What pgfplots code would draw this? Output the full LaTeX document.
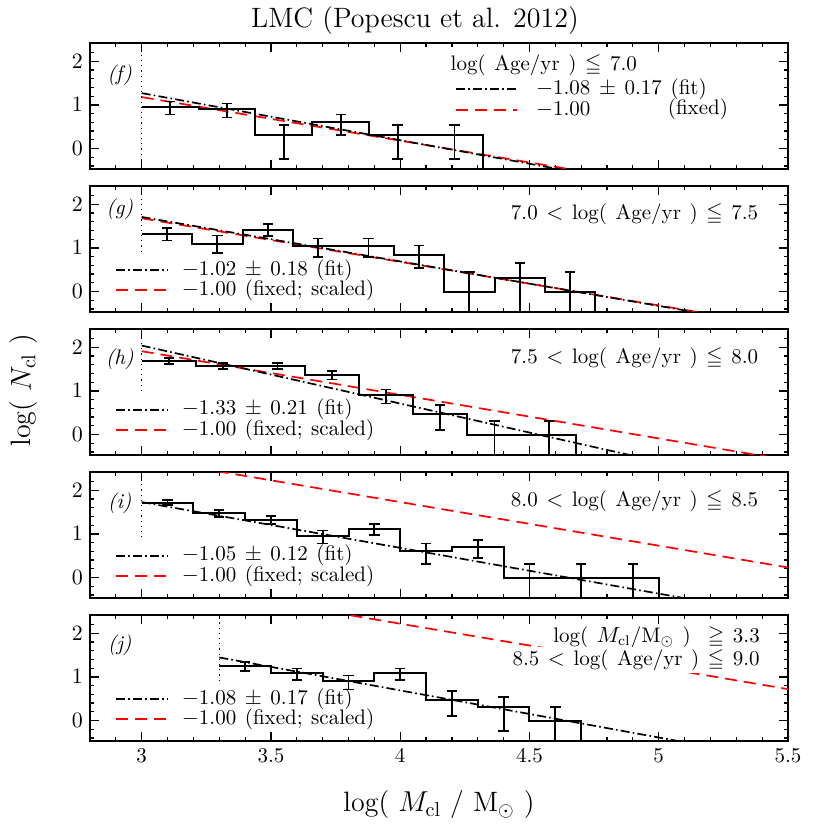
\documentclass[border=0pt]{standalone}
\usepackage{amssymb}
\usepackage{pgfplots}
\usepackage{pgfplotstable}
\pgfplotsset{compat=1.18}

\definecolor{fitred}{RGB}{255,0,0}
\newcommand{\lgfont}{\fontsize{10.5}{12.5}\selectfont\spaceskip=4.3pt\relax}

% bin centre, log N, upper and lower error (2 = runs off the panel)
\pgfplotstableread{
x    y     ep    em
3.11 0.954 0.125 0.176
3.33 0.903 0.131 0.190
3.55 0.301 0.232 0.533
3.77 0.602 0.176 0.301
3.99 0.301 0.232 0.533
4.21 0.301 0.232 0.533
}\tabF
\pgfplotstableread{
x      y     ep    em
3.0975 1.32  0.14  0.15
3.2925 1.10  0.185 0.215
3.4875 1.41  0.13  0.14
3.6825 1.04  0.175 0.25
3.8775 1.04  0.175 0.25
4.0725 0.846 0.21  0.31
4.2675 0     0.44  2
4.4625 0.31  0.34  2
4.6575 0     0.44  2
}\tabG
\pgfplotstableread{
x     y     ep    em
3.105 1.690 0.059 0.064
3.315 1.580 0.067 0.074
3.525 1.580 0.067 0.074
3.735 1.362 0.086 0.098
3.945 0.903 0.131 0.190
4.155 0.477 0.198 0.374
4.365 0     0.301 2
4.575 0     0.301 2
}\tabH
\pgfplotstableread{
x   y     ep    em
3.1 1.716 0.057 0.062
3.3 1.477 0.074 0.082
3.5 1.322 0.090 0.103
3.7 0.954 0.125 0.176
3.9 1.114 0.107 0.137
4.1 0.602 0.176 0.301
4.3 0.699 0.158 0.260
4.5 0     0.301 2
4.7 0     0.301 2
4.9 0     0.301 2
}\tabI
\pgfplotstableread{
x   y     ep    em
3.4 1.255 0.092 0.117
3.6 1.079 0.114 0.148
3.8 0.903 0.131 0.190
4.0 1.079 0.114 0.148
4.2 0.477 0.198 0.374
4.4 0.301 0.232 0.533
4.6 0     0.301 2
}\tabJ

\tikzset{
  fitline/.style={black, line width=0.85pt, dash pattern=on 4.5pt off 1.6pt on 0.8pt off 1.6pt},
  fixline/.style={fitred, line width=0.85pt, dash pattern=on 6pt off 3.5pt},
  lim/.style={black, line width=0.6pt, dotted},
  lab/.style={inner sep=0.5pt},
}

\pgfplotsset{
  panel/.style={
    scale only axis, width=349pt, height=63pt,
    xmin=2.8, xmax=5.5, ymin=-0.47, ymax=2.42,
    xtick={3,3.5,4,4.5,5,5.5},
    minor xtick={2.9,3.0,...,5.45},
    ytick={0,1,2},
    minor ytick={-0.4,-0.2,...,2.41},
    tick align=inside, major tick length=4.5pt, minor tick length=2.2pt,
    tick style={black, line width=0.6pt},
    axis line style={line width=0.9pt},
    xticklabels={},
    tick label style={font=\fontsize{10.5}{12}\selectfont},
    anchor=north west, clip mode=individual,
  },
  hist/.style={black, line width=1pt, const plot, mark=none},
  ebar/.style={draw=none, mark=none,
    error bars/.cd, y dir=both, y explicit, error mark=none,
    error bar style={draw=black, solid, line width=0.9pt}},
  cap/.style={black, only marks, mark=-, mark size=2.6pt, mark options={solid, line width=0.9pt}},
}

% error bars with end caps for one table
\newcommand{\ebars}[1]{%
  \addplot[ebar] table[x=x, y=y, y error plus=ep, y error minus=em] {#1};
  \addplot[cap] table[x=x, y expr=\thisrow{y}+\thisrow{ep}] {#1};
  \addplot[cap] table[x=x, y expr=\thisrow{y}-\thisrow{em}] {#1};
}

\begin{document}
\begin{tikzpicture}[font=\lgfont]

% (f) log(Age/yr) <= 7.0
\begin{axis}[panel, at={(0,0)}]
\addplot[lim] coordinates {(3,-0.5) (3,2.5)};
\addplot[fixline] coordinates {(3,1.18) (5.5,-1.32)};
\addplot[fitline] coordinates {(3,1.27) (5.5,-1.43)};
\addplot[hist] coordinates {(3.00,0.954) (3.22,0.903) (3.44,0.301) (3.66,0.602) (3.88,0.301) (4.10,0.301) (4.32,0.301) (4.32,-1)};
\ebars{\tabF}
\node[lab, font=\lgfont\itshape] at (axis cs:2.915,1.69) {(f)};
\node[lab, anchor=west] at (axis cs:4.19,1.91) {log( Age/yr ) $\leqq$ 7.0};
\draw[fitline] (axis cs:4.215,1.37) -- (axis cs:4.45,1.37);
\node[lab, anchor=west] at (axis cs:4.52,1.37) {$-$1.08 $\pm$ 0.17 (fit)};
\draw[fixline] (axis cs:4.215,0.89) -- (axis cs:4.45,0.89);
\node[lab, anchor=west] at (axis cs:4.52,0.89) {$-$1.00};
\node[lab, anchor=west] at (axis cs:5.03,0.89) {(fixed)};
\end{axis}

% (g) 7.0 < log(Age/yr) <= 7.5
\begin{axis}[panel, at={(0,-71.5pt)}]
\addplot[lim] coordinates {(3,0.91) (3,2.5)};
\addplot[fixline] coordinates {(3,1.68) (5.5,-0.82)};
\addplot[fitline] coordinates {(3,1.71) (5.5,-0.84)};
\addplot[hist] coordinates {(3.000,1.32) (3.195,1.10) (3.390,1.41) (3.585,1.04) (3.780,1.04) (3.975,0.846) (4.170,0) (4.365,0.31) (4.560,0) (4.755,0) (4.755,-1)};
\ebars{\tabG}
\node[lab, font=\lgfont\itshape] at (axis cs:2.915,1.88) {(g)};
\node[lab, anchor=east] at (axis cs:5.39,1.77) {7.0 $<$ log( Age/yr ) $\leqq$ 7.5};
\draw[fitline] (axis cs:2.90,0.49) -- (axis cs:3.10,0.49);
\node[lab, anchor=west] at (axis cs:3.15,0.49) {$-$1.02 $\pm$ 0.18 (fit)};
\draw[fixline] (axis cs:2.90,0.04) -- (axis cs:3.10,0.04);
\node[lab, anchor=west] at (axis cs:3.15,0.04) {$-$1.00 (fixed; scaled)};
\end{axis}

% (h) 7.5 < log(Age/yr) <= 8.0
\begin{axis}[panel, at={(0,-143pt)}]
\addplot[lim] coordinates {(3,1.0) (3,2.5)};
\addplot[fixline] coordinates {(3,1.91) (5.5,-0.59)};
\addplot[fitline] coordinates {(3,2.04) (5.5,-1.285)};
\addplot[hist] coordinates {(3.00,1.690) (3.21,1.580) (3.42,1.580) (3.63,1.362) (3.84,0.903) (4.05,0.477) (4.26,0) (4.47,0) (4.68,0) (4.68,-1)};
\ebars{\tabH}
\node[lab, font=\lgfont\itshape] at (axis cs:2.915,1.73) {(h)};
\node[lab, anchor=east] at (axis cs:5.39,1.75) {7.5 $<$ log( Age/yr ) $\leqq$ 8.0};
\draw[fitline] (axis cs:2.90,0.57) -- (axis cs:3.10,0.57);
\node[lab, anchor=west] at (axis cs:3.15,0.57) {$-$1.33 $\pm$ 0.21 (fit)};
\draw[fixline] (axis cs:2.90,0.10) -- (axis cs:3.10,0.10);
\node[lab, anchor=west] at (axis cs:3.15,0.10) {$-$1.00 (fixed; scaled)};
\end{axis}

% (i) 8.0 < log(Age/yr) <= 8.5
\begin{axis}[panel, at={(0,-214.5pt)}]
\addplot[lim] coordinates {(3,0.92) (3,2.5)};
\addplot[fixline] coordinates {(3,2.73) (5.5,0.23)};
\addplot[fitline] coordinates {(3,1.73) (5.5,-0.895)};
\addplot[hist] coordinates {(3.0,1.716) (3.2,1.477) (3.4,1.322) (3.6,0.954) (3.8,1.114) (4.0,0.602) (4.2,0.699) (4.4,0) (4.6,0) (4.8,0) (5.0,0) (5.0,-1)};
\ebars{\tabI}
\node[lab, font=\lgfont\itshape] at (axis cs:2.915,1.70) {(i)};
\node[lab, anchor=east] at (axis cs:5.39,1.75) {8.0 $<$ log( Age/yr ) $\leqq$ 8.5};
\draw[fitline] (axis cs:2.90,0.50) -- (axis cs:3.10,0.50);
\node[lab, anchor=west] at (axis cs:3.15,0.50) {$-$1.05 $\pm$ 0.12 (fit)};
\draw[fixline] (axis cs:2.90,0.03) -- (axis cs:3.10,0.03);
\node[lab, anchor=west] at (axis cs:3.15,0.03) {$-$1.00 (fixed; scaled)};
\end{axis}

% (j) 8.5 < log(Age/yr) <= 9.0, log(Mcl) >= 3.3
\begin{axis}[panel, at={(0,-286pt)}, xticklabels={3,3.5,4,4.5,5,5.5}]
\addplot[lim] coordinates {(3.3,0.91) (3.3,2.5)};
\addplot[fixline] coordinates {(3.3,2.92) (5.5,0.72)};
\addplot[fitline] coordinates {(3.3,1.446) (5.5,-0.93)};
\addplot[hist] coordinates {(3.3,1.255) (3.5,1.079) (3.7,0.903) (3.9,1.079) (4.1,0.477) (4.3,0.301) (4.5,0) (4.7,0) (4.7,-1)};
\ebars{\tabJ}
\node[lab, font=\lgfont\itshape] at (axis cs:2.915,1.73) {(j)};
\node[anchor=east, fill=white, inner sep=1pt] at (axis cs:5.40,1.92) {log( $M_{\rm cl}$/M$_\odot$ ) \ $\geqq$ 3.3};
\node[anchor=east, fill=white, inner sep=1pt] at (axis cs:5.40,1.39) {8.5 $<$ log( Age/yr ) $\leqq$ 9.0};
\draw[fitline] (axis cs:2.90,0.49) -- (axis cs:3.10,0.49);
\node[lab, anchor=west] at (axis cs:3.15,0.49) {$-$1.08 $\pm$ 0.17 (fit)};
\draw[fixline] (axis cs:2.90,0.03) -- (axis cs:3.10,0.03);
\node[lab, anchor=west] at (axis cs:3.15,0.03) {$-$1.00 (fixed; scaled)};
\end{axis}

\node[font=\fontsize{14}{17}\selectfont] at (162.5pt,11pt) {LMC (Popescu et al. 2012)};
\node[font=\fontsize{14}{17}\selectfont, rotate=90] at (-33pt,-173.5pt) {log( $N_{\rm cl}$ )};
\node[font=\fontsize{14}{17}\selectfont] at (174.5pt,-381pt) {log( $M_{\rm cl}$ / M$_\odot$ )};

\pgfresetboundingbox
\useasboundingbox (-45pt,21.5pt) rectangle (370pt,-393.5pt);
\end{tikzpicture}
\end{document}
